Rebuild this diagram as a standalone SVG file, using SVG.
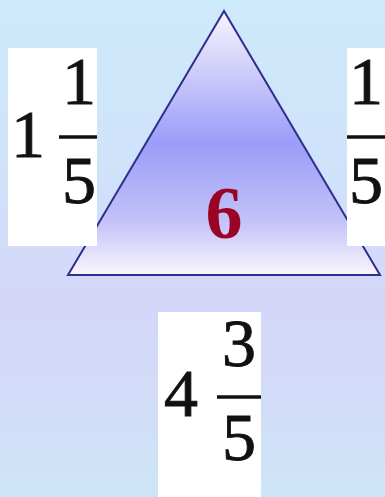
<svg xmlns="http://www.w3.org/2000/svg" width="385" height="497" viewBox="0 0 385 497">
<defs>
<linearGradient id="bg" x1="0" y1="0" x2="0" y2="1">
<stop offset="0" stop-color="#cdeafa"/>
<stop offset="0.35" stop-color="#d0e2fa"/>
<stop offset="0.6" stop-color="#d4d6f8"/>
<stop offset="0.8" stop-color="#d2dcf8"/>
<stop offset="1" stop-color="#cde6f6"/>
</linearGradient>
<linearGradient id="tri" x1="0" y1="11" x2="0" y2="275" gradientUnits="userSpaceOnUse">
<stop offset="0" stop-color="#f6f4fe"/>
<stop offset="0.2" stop-color="#d4d2fa"/>
<stop offset="0.5" stop-color="#9a9cf8"/>
<stop offset="0.8" stop-color="#c4c2f8"/>
<stop offset="1" stop-color="#faf6fe"/>
</linearGradient>
<style>
.box{fill:#ffffff}
.num{font-family:"Liberation Serif","DejaVu Serif",serif;font-size:68px;fill:#111111;stroke:#111111;stroke-width:0.9}
.bar{stroke:#111111;stroke-width:3.5}
.six{font-family:"Liberation Serif","DejaVu Serif",serif;font-size:74px;font-weight:bold;fill:#9a0526}
</style>
</defs>
<rect x="0" y="0" width="385" height="497" fill="url(#bg)"/>
<g id="triangle">
<polygon points="224,11 68,275 380,275" fill="url(#tri)" stroke="#2e2e8e" stroke-width="2"/>
<text class="six" x="224" y="238" text-anchor="middle">6</text>
</g>
<g id="left">
<rect class="box" x="8" y="48" width="89" height="198"/>
<text class="num" x="28" y="157" text-anchor="middle">1</text>
<text class="num" x="79" y="104" text-anchor="middle">1</text>
<line class="bar" x1="59" y1="137" x2="97" y2="137"/>
<text class="num" x="79" y="203" text-anchor="middle">5</text>
</g>
<g id="right">
<rect class="box" x="347" y="48" width="38" height="198"/>
<text class="num" x="366" y="104" text-anchor="middle">1</text>
<line class="bar" x1="347" y1="137" x2="385" y2="137"/>
<text class="num" x="366" y="203" text-anchor="middle">5</text>
</g>
<g id="bottom">
<rect class="box" x="158" y="312" width="103" height="185"/>
<text class="num" x="181" y="416" text-anchor="middle">4</text>
<text class="num" x="239" y="366" text-anchor="middle">3</text>
<line class="bar" x1="217" y1="397" x2="261" y2="397"/>
<text class="num" x="239" y="460" text-anchor="middle">5</text>
</g>
<g id="connectors"/>
</svg>
